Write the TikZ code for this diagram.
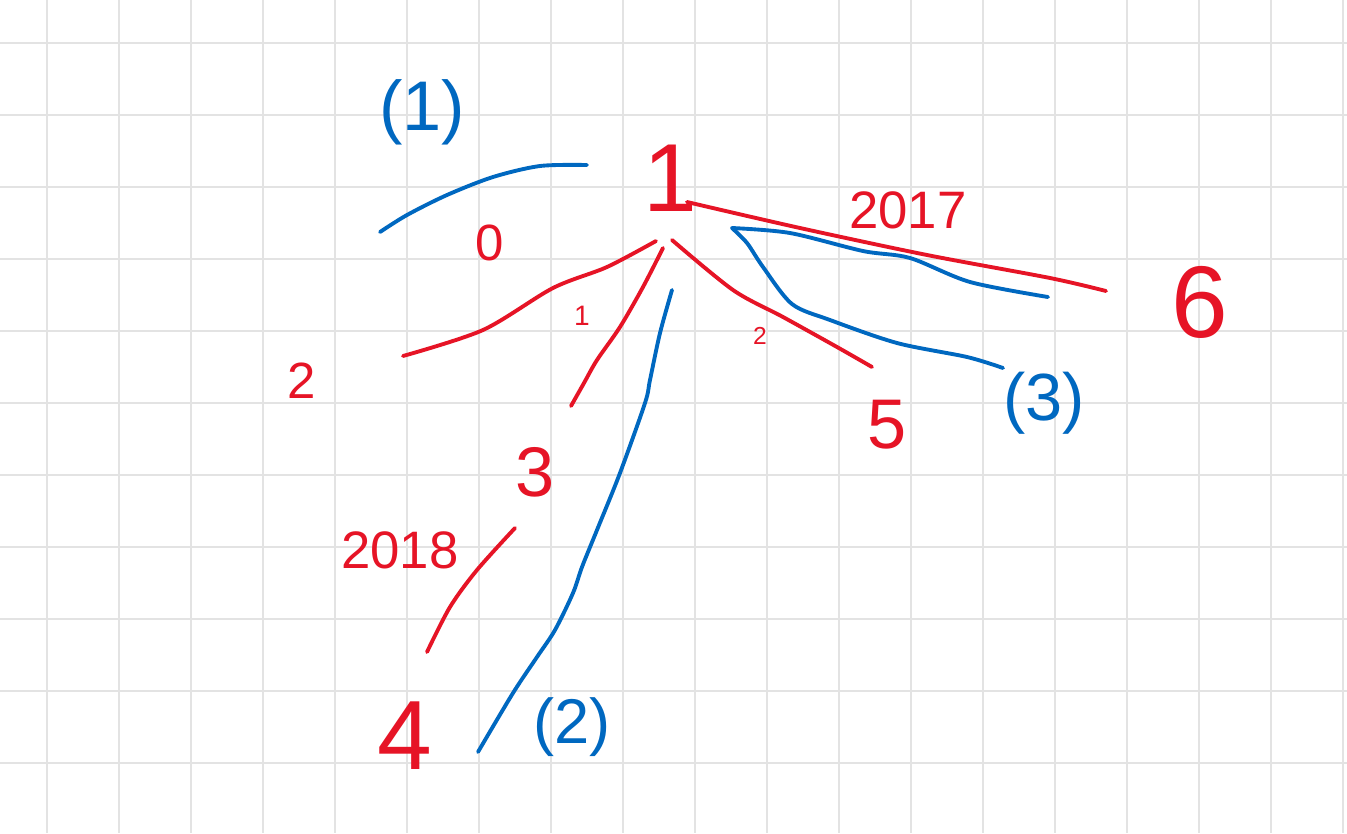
\documentclass[tikz,border=0pt]{standalone}
\usepackage{fontspec}
\setmainfont{Liberation Sans}
\definecolor{inkred}{RGB}{230,20,38}
\definecolor{inkblue}{RGB}{0,104,192}

\begin{document}
\begin{tikzpicture}[x=0.02cm,y=-0.02cm,
	gridline/.style={draw=black!11,line width=0.9pt},
	redink/.style={draw=inkred,line width=2.2pt,line cap=round,line join=round},
	blueink/.style={draw=inkblue,line width=2.2pt,line cap=round,line join=round},
	rlabel/.style={text=inkred,inner sep=0pt},
	blabel/.style={text=inkblue,inner sep=0pt}]
				\fill[white] (0,0) rectangle (1347,833);
				\useasboundingbox (0,0) rectangle (1347,833);
				\foreach \gx in {47,119,...,1343} \draw[gridline] (\gx,0) -- (\gx,833);
				\foreach \gy in {43,115,...,763} \draw[gridline] (0,\gy) -- (1347,\gy);

				% vertices
				\node[rlabel,font=\fontsize{55}{55}\selectfont] (n1) at (670,178) {1};
				\node[rlabel,font=\fontsize{29}{29}\selectfont] (n2) at (302,381) {2};
				\node[rlabel,font=\fontsize{40}{40}\selectfont] (n3) at (535,472) {3};
				\node[rlabel,font=\fontsize{56}{56}\selectfont] (n4) at (405,736) {4};
				\node[rlabel,font=\fontsize{40}{40}\selectfont] (n5) at (887,425) {5};
				\node[rlabel,font=\fontsize{58}{58}\selectfont] (n6) at (1200,302) {6};

				% weights
				\node[rlabel,font=\fontsize{29}{29}\selectfont] (w0) at (490,243) {0};
				\node[rlabel,font=\fontsize{16}{16}\selectfont] (w1) at (582,316) {1};
				\node[rlabel,font=\fontsize{14}{14}\selectfont] (w2) at (760,336) {2};
				\node[rlabel,font=\fontsize{30}{30}\selectfont] (w2017) at (908,210) {2017};
				\node[rlabel,font=\fontsize{30}{30}\selectfont] (w2018) at (400,550) {2018};

				% path numbers
				\node[blabel,font=\fontsize{40}{40}\selectfont] (p1) at (422,112) {(1)};
				\node[blabel,font=\fontsize{36}{36}\selectfont] (p2) at (572,727) {(2)};
				\node[blabel,font=\fontsize{38}{38}\selectfont] (p3) at (1044,403) {(3)};

				\coordinate (e16s) at (687,202); \coordinate (e16e) at (1106,291);
				\coordinate (e12s) at (656,241); \coordinate (e12e) at (403,356);
				\coordinate (e13s) at (663,248); \coordinate (e13e) at (571,406);
				\coordinate (e34s) at (515,528); \coordinate (e34e) at (427,652);
				\coordinate (e15s) at (672,240); \coordinate (e15e) at (872,367);

				\draw[redink] plot[smooth] coordinates {(e16s) (800,228) (927,255) (1050,278) (e16e)};
				\draw[redink] plot[smooth] coordinates {(e12s) (607,267) (553,288) (483,330) (e12e)};
				\draw[redink] plot[smooth] coordinates {(e13s) (643,287) (620,327) (597,360) (584,383) (e13e)};
				\draw[redink] plot[smooth] coordinates {(e34s) (477,570) (450,607) (e34e)};
				\draw[redink] plot[smooth] coordinates {(e15s) (733,290) (783,317) (837,347) (e15e)};

				\coordinate (b0s) at (380,232); \coordinate (b0e) at (587,165);
				\coordinate (b6s) at (1048,297); \coordinate (bturn) at (732,228); \coordinate (b5e) at (1003,368);
				\coordinate (b4s) at (672,290); \coordinate (b4e) at (478,752);

				\draw[blueink] plot[smooth] coordinates {(b0s) (407,215) (447,195) (493,177) (540,166) (b0e)};
				\draw[blueink] plot[smooth] coordinates {(b6s) (970,282) (910,258) (863,251) (790,233) (bturn)};
				\draw[blueink] plot[smooth] coordinates {(bturn) (747,243) (763,267) (792,304) (830,320) (897,343) (967,357) (b5e)};
				\draw[blueink] plot[smooth] coordinates {(b4s) (660,333) (650,380) (645,403) (620,473) (597,530) (582,567) (573,593) (555,630) (537,657) (513,693) (b4e)};
			\end{tikzpicture}
\end{document}
